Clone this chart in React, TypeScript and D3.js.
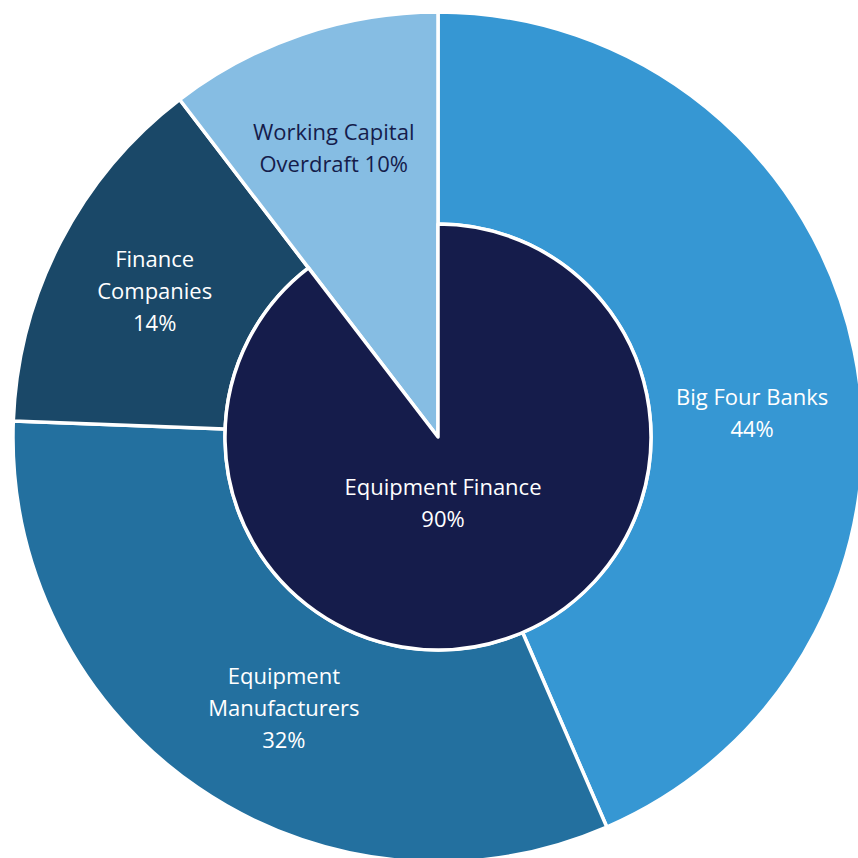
import React from "react";
import * as d3 from "d3";

const outerNames = ["Big Four Banks", "Equipment Manufacturers", "Finance Companies", "Working Capital Overdraft"];
const outerValues = [43.5, 32.1, 14.0, 10.4];
const outerColors = ["#3697D3", "#23709F", "#1A4868", "#86BDE3"];
const outerLabelLines = [["Big Four Banks"], ["Equipment", "Manufacturers"], ["Finance", "Companies"], ["Working Capital", "Overdraft"]];
const innerNames = ["Equipment Finance", "Working Capital Overdraft"];
const innerValues = [89.6, 10.4];
const innerColor = "#151C4B";

const W = 858, H = 858;
const cx = 438, cy = 437;
const R = 425, r0 = 213;

export default function App() {
  const pie = d3.pie<number>().sort(null).value((d) => d);
  const outer = pie(outerValues);
  const inner = pie(innerValues);
  const ringArc = d3.arc<d3.PieArcDatum<number>>().innerRadius(r0).outerRadius(R);
  const fullArc = d3.arc<d3.PieArcDatum<number>>().innerRadius(0).outerRadius(R);
  const innerArc = d3.arc<d3.PieArcDatum<number>>().innerRadius(0).outerRadius(r0);
  const fs = 22;
  const lh = 32;
  const font = "'Open Sans', 'DejaVu Sans', sans-serif";

  // label anchors: arc-based positions, with nudges
  const labelPos = (i: number): [number, number] => {
    const a = outer[i];
    const mid = (a.startAngle + a.endAngle) / 2;
    if (i === 0) {
      const ang = mid + 0.13;
      const rr = 315;
      return [rr * Math.sin(ang), -rr * Math.cos(ang)];
    }
    if (i === 3) {
      const rr = 307;
      return [rr * Math.sin(mid - 0.02), -rr * Math.cos(mid - 0.02)];
    }
    const c = ringArc.centroid(a);
    return i === 1 ? [c[0] + 26, c[1] + 8] : [c[0], c[1] + 1];
  };

  return (
    <svg width={W} height={H} style={{ position: "absolute", left: 0, top: 0, background: "#fff" }}>
      <g transform={`translate(${cx},${cy})`}>
        {outer.map((a, i) => (
          <path
            key={outerNames[i]}
            d={(i === 3 ? fullArc : ringArc)(a) as string}
            fill={outerColors[i]}
            stroke="#fff"
            strokeWidth={3.5}
            strokeLinejoin="round"
          />
        ))}
        <path d={innerArc(inner[0]) as string} fill={innerColor} stroke="#fff" strokeWidth={3.5} strokeLinejoin="round" />
        {outer.map((a, i) => {
          const [x, y] = labelPos(i);
          const lines = [...outerLabelLines[i]];
          const pct = `${Math.round(outerValues[i])}%`;
          if (i === 3) lines[1] = lines[1] + " " + pct;
          else lines.push(pct);
          const n = lines.length;
          return (
            <text
              key={"l" + i}
              x={x}
              y={y}
              textAnchor="middle"
              fontFamily={font}
              fontSize={fs}
              fill={i === 3 ? innerColor : "#fff"}
            >
              {lines.map((t, k) => (
                <tspan key={k} x={x} y={y + (k - (n - 1) / 2) * lh} dy="0.35em">
                  {t}
                </tspan>
              ))}
            </text>
          );
        })}
        <text textAnchor="middle" fontFamily={font} fontSize={fs} fill="#fff">
          <tspan x={5} y={50} dy="0.35em">{innerNames[0]}</tspan>
          <tspan x={5} y={82} dy="0.35em">{`${Math.round(innerValues[0])}%`}</tspan>
        </text>
      </g>
    </svg>
  );
}
